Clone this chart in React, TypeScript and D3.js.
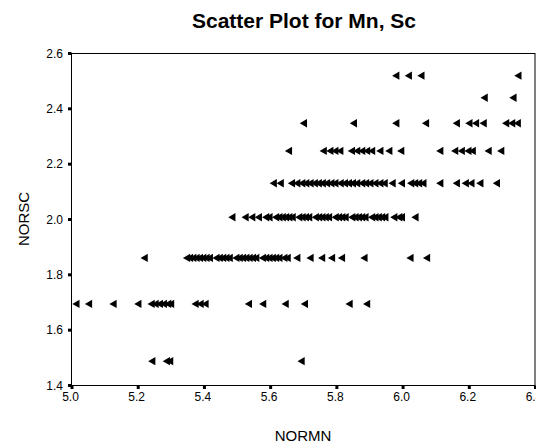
import * as d3 from 'd3'

// Mn (x) values, one list per Sc level
const scLevels = [2.52, 2.44, 2.348, 2.248, 2.131, 2.008, 1.861, 1.695, 1.488]

const mnAt252 = [5.983, 6.021, 6.059, 6.352]
const mnAt244 = [6.25, 6.337]
const mnAt235 = [5.704, 5.855, 5.983, 6.073, 6.166, 6.204, 6.224, 6.247, 6.315, 6.333, 6.35]
const mnAt225 = [
  5.659, 5.764, 5.784, 5.799, 5.814, 5.849, 5.865, 5.88, 5.895, 5.91, 5.935,
  5.962, 5.998, 6.116, 6.161, 6.181, 6.201, 6.214, 6.262, 6.3,
]
const mnAt213 = [
  5.613, 5.634, 5.668, 5.684, 5.699, 5.711, 5.724, 5.737, 5.749, 5.761, 5.774,
  5.787, 5.799, 5.815, 5.828, 5.84, 5.852, 5.865, 5.88, 5.892, 5.905, 5.92,
  5.935, 5.948, 5.972, 6.0, 6.028, 6.04, 6.052, 6.065, 6.116, 6.166, 6.193,
  6.21, 6.237, 6.287,
]
const mnAt201 = [
  5.488, 5.528, 5.548, 5.568, 5.59, 5.6, 5.62, 5.63, 5.64, 5.65, 5.66, 5.67,
  5.69, 5.7, 5.71, 5.72, 5.74, 5.75, 5.76, 5.77, 5.78, 5.8, 5.81, 5.82, 5.83,
  5.85, 5.86, 5.87, 5.88, 5.89, 5.91, 5.92, 5.93, 5.94, 5.95, 5.977, 5.992,
  6.0, 6.041,
]
const mnAt186 = [
  5.223, 5.351, 5.36, 5.37, 5.38, 5.39, 5.4, 5.41, 5.42, 5.44, 5.45, 5.46,
  5.47, 5.48, 5.5, 5.51, 5.52, 5.53, 5.54, 5.55, 5.56, 5.58, 5.59, 5.6, 5.61,
  5.62, 5.63, 5.645, 5.655, 5.684, 5.724, 5.759, 5.789, 5.819, 5.887, 6.026,
  6.076,
]
const mnAt169 = [
  5.017, 5.055, 5.129, 5.204, 5.244, 5.256, 5.269, 5.281, 5.294, 5.303, 5.377,
  5.392, 5.407, 5.538, 5.581, 5.649, 5.707, 5.842, 5.895,
]
const mnAt148 = [5.246, 5.29, 5.3, 5.697]

const mnRows = [mnAt252, mnAt244, mnAt235, mnAt225, mnAt213, mnAt201, mnAt186, mnAt169, mnAt148]

const xTicks = [5.0, 5.2, 5.4, 5.6, 5.8, 6.0, 6.2, 6.4]
const yTicks = [1.4, 1.6, 1.8, 2.0, 2.2, 2.4, 2.6]

const title = 'Scatter Plot for Mn, Sc'
const xTitle = 'NORMN'
const yTitle = 'NORSC'

const width = 536
const height = 447
const font = '"Liberation Sans", Arial, sans-serif'

export default function App() {
  const x = d3.scaleLinear().domain([5.0, 6.4]).range([71.5, 535])
  const y = d3.scaleLinear().domain([1.4, 2.6]).range([385.5, 53.5])

  // left pointing triangle
  const marker = d3.symbol().type(d3.symbolTriangle).size(30)()

  const points = mnRows.flatMap((row, i) => row.map(mn => ({ mn, sc: scLevels[i] })))

  const [x0, x1] = x.range()
  const [y0, y1] = y.range()

  return (
    <svg
      width={width}
      height={height}
      style={{ position: 'absolute', left: 0, top: 0, background: '#fff' }}
      fontFamily={font}
    >
      <text x={304} y={28} textAnchor="middle" fontSize={21} fontWeight="bold">
        {title}
      </text>

      {/* frame */}
      <rect x={x0} y={y1} width={x1 - x0} height={y0 - y1} fill="none" stroke="#000" strokeWidth={1} />

      {/* y axis ticks */}
      {yTicks.map(t => (
        <g key={'y' + t}>
          <rect x={x0 - 3.5} y={y(t) - 1.5} width={3.5} height={3} fill="#000" />
          <text x={63} y={y(t)} dy="0.35em" textAnchor="end" fontSize={12}>
            {d3.format('.1f')(t)}
          </text>
        </g>
      ))}

      {/* x axis ticks */}
      {xTicks.map(t => (
        <g key={'x' + t}>
          <rect x={x(t) - 1} y={y0} width={3} height={3.5} fill="#000" />
          <text x={x(t) - 1} y={401} textAnchor="middle" fontSize={12}>
            {d3.format('.1f')(t)}
          </text>
        </g>
      ))}

      <text x={303} y={441} textAnchor="middle" fontSize={15}>
        {xTitle}
      </text>
      <text transform="translate(29,219) rotate(-90)" textAnchor="middle" fontSize={15}>
        {yTitle}
      </text>

      {points.map((p, i) => (
        <path
          key={i}
          d={marker ?? ''}
          transform={`translate(${x(p.mn)},${y(p.sc)}) rotate(-90)`}
          fill="#000"
        />
      ))}
    </svg>
  )
}
